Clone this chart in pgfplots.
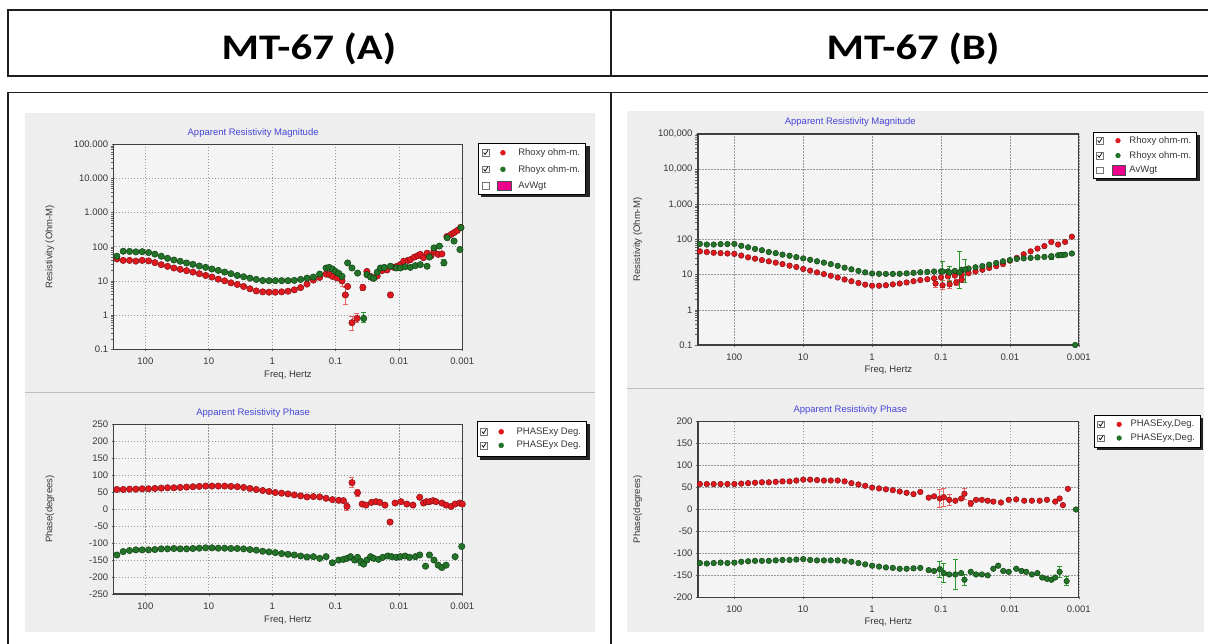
\documentclass[border=0pt]{standalone}
\usepackage{graphicx}
\usepackage{pgfplots}
\pgfplotsset{compat=1.18}
\usepackage{fontspec}
\setmainfont{Liberation Sans}
\newfontfamily\headfont{Carlito}

\definecolor{rfill}{RGB}{225,25,30}
\definecolor{rdraw}{RGB}{130,15,20}
\definecolor{gfill}{RGB}{35,115,40}
\definecolor{gdraw}{RGB}{15,65,20}
\definecolor{rerr}{RGB}{235,100,100}
\definecolor{gerr}{RGB}{40,150,40}
\definecolor{panel}{RGB}{238,238,238}
\definecolor{plotbg}{RGB}{244,244,244}
\definecolor{titleblue}{RGB}{70,70,215}
\definecolor{txt}{RGB}{55,55,55}
\definecolor{frame}{RGB}{30,30,30}

\newcommand{\chartfont}{\fontsize{9.5}{11}\selectfont}
\newcommand{\tA}{1,000}
\newcommand{\tB}{10,000}
\newcommand{\tC}{100,000}

\begin{document}
\begin{tikzpicture}[x=1pt,y=1pt]
\path[use as bounding box] (0,0) rectangle (1208,643);
\fill[white] (0,0) rectangle (1208,643);
% gray panels
\fill[panel] (25,250) rectangle (595,530);
\fill[panel] (25,11) rectangle (595,250);
\draw[black!25, line width=1pt] (25,250) -- (595,250);
\fill[panel] (627,254) rectangle (1204,532);
\fill[panel] (627,11) rectangle (1204,254);
\draw[black!25, line width=1pt] (627,254) -- (1204,254);
% legend shadows
\fill[black!85] (481.3,446) rectangle (589.5,496.7);
\fill[black!85] (480,183) rectangle (590,219);
\fill[black!85] (1096,462) rectangle (1200,508);
\fill[black!85] (1097,193) rectangle (1203,225);
% table frame
\draw[frame, line width=1.6pt] (8,567) rectangle (1216,633);
\draw[frame, line width=1.6pt] (611,567) -- (611,633);
\draw[frame, line width=1.6pt] (8,-5) -- (8,550.3) -- (1216,550.3);
\draw[frame, line width=1.6pt] (611,-5) -- (611,550.3);
\node[font=\headfont\bfseries\fontsize{36}{40}\selectfont] at (309,594) {\scalebox{1.19}[1]{MT-67 (A)}};
\node[font=\headfont\bfseries\fontsize{36}{40}\selectfont] at (913,594) {\scalebox{1.19}[1]{MT-67 (B)}};

% ===== A: resistivity =====
\begin{axis}[at={(113.7pt,293.7pt)}, anchor=south west, width=348.6pt, height=205pt,
  scale only axis, xmode=log, x dir=reverse, xmin=0.001, xmax=316.2,
  ymode=log, ymin=0.1, ymax=100000,
  clip mode=individual, unbounded coords=jump,
  axis background/.style={fill=plotbg},
  axis line style={draw=black!75, line width=1.2pt},
  grid=major,
  major grid style={dash pattern=on 1.5pt off 1.5pt, black!40, line width=0.6pt},
  xtick={100,10,1,0.1,0.01,0.001},
  xticklabels={100,10,1,0.1,0.01,0.001},
  xtick pos=bottom, ytick pos=left, tick align=outside, major tick length=2pt,
  tick style={black!60, line width=0.5pt},
  tick label style={font=\chartfont, text=txt},
  xticklabel style={yshift=-3.5pt},
  label style={font=\chartfont, text=txt},
  xlabel={Freq, Hertz},
  xlabel style={at={(axis description cs:0.5,0)}, anchor=center, yshift=-26pt},
  title style={font=\chartfont, text=titleblue, at={(axis description cs:0.4,1)}, anchor=south, yshift=-2.5pt},
  ytick={0.1,1,10,100,1000,10000,100000},
  yticklabels={0.1,1,10,100,1.000,10.000,100.000},
  title={Apparent Resistivity Magnitude}, ylabel={Resistivity (Ohm-M)},
  ylabel style={at={(axis description cs:-0.183,0.5)}, rotate=0, anchor=center},
  legend cell align=left,
  legend style={draw=black, line width=0.6pt, fill=white, font=\chartfont, text=txt,
     anchor=north west, row sep=4.2pt, inner xsep=3.5pt, inner ysep=3pt, at={(1.046,1.005)}}]
\addplot[forget plot, rerr, line width=0.8pt, mark=-, mark size=2.5pt, mark options={rerr, line width=0.8pt}] coordinates {
(0.079,7)(0.079,13)(0.079,nan)(0.070,2.0)(0.070,6.4)(0.070,nan)(0.055,0.35)(0.055,0.9)(0.055,nan)
(0.0459,0.6)(0.0459,1.1)(0.0459,nan)(0.037,5.2)(0.037,7.9)(0.037,nan)(0.0136,3.2)(0.0136,4.7)
};
\addplot[forget plot, gerr, line width=0.8pt, mark=-, mark size=2.5pt, mark options={gerr, line width=0.8pt}] coordinates {
(0.036,0.6)(0.036,1.2)(0.036,nan)(0.00195,27.7)(0.00195,41.7)
};
\addplot[only marks, mark=*, mark size=3.2pt, mark options={fill=rfill, draw=rdraw, line width=0.5pt},
  legend image code/.code={
     \draw[black!55, fill=white, line width=0.4pt] (0pt,-3.3pt) rectangle (6.6pt,3.3pt);
     \draw[black, line width=0.7pt] (1.3pt,0.3pt) -- (2.8pt,-1.8pt) -- (5.6pt,2.6pt);
     \path[draw=none, fill=none] (0pt,0pt) -- (34pt,0pt);
     \fill[rfill] (20.6pt,0pt) circle (2.4pt);}] coordinates {
(281.8,44)(223.9,40)(177.8,40)(141.3,38)(112.2,40)(89.1,38.6)(70.8,34.4)(56.2,30)(44.7,26.8)(35.5,23.9)
(28.2,21.9)(22.4,20)(17.8,18.2)(14.1,16.3)(11.2,14.5)(8.91,13)(7.08,11.3)(5.62,10.1)(4.47,8.8)(3.55,7.9)
(2.82,6.9)(2.24,5.9)(1.78,5.1)(1.41,4.8)(1.12,4.7)(0.891,4.7)(0.708,4.8)(0.562,5.0)(0.447,5.5)(0.355,6.4)
(0.282,8.1)(0.224,10.6)(0.178,12.7)(0.141,15.9)(0.126,15.3)(0.112,13.6)(0.095,12.2)
(0.079,10)(0.070,3.9)(0.0644,6.9)(0.055,0.6)(0.0459,0.8)(0.037,6.4)(0.0136,3.9)
(0.032,19)(0.028,13.6)(0.025,12)(0.022,14)(0.0185,20)(0.0154,21)(0.012,25)(0.0107,27)
(0.0095,30)(0.0084,38)(0.0072,40)(0.0066,42)(0.0057,50)(0.005,55)(0.0046,60)(0.0041,48)(0.0036,65)
(0.0031,55)(0.0028,74)(0.0024,60)(0.0021,62)(0.00175,200)(0.0015,230)(0.00135,260)(0.0012,300)(0.00106,370)
};
\addlegendentry{Rhoxy ohm-m.}
\addplot[only marks, mark=*, mark size=3.2pt, mark options={fill=gfill, draw=gdraw, line width=0.5pt},
  legend image code/.code={
     \draw[black!55, fill=white, line width=0.4pt] (0pt,-3.3pt) rectangle (6.6pt,3.3pt);
     \draw[black, line width=0.7pt] (1.3pt,0.3pt) -- (2.8pt,-1.8pt) -- (5.6pt,2.6pt);
     \path[draw=none, fill=none] (0pt,0pt) -- (34pt,0pt);
     \fill[gfill] (20.6pt,0pt) circle (2.4pt);}] coordinates {
(281.8,53)(223.9,74)(177.8,73)(141.3,71)(112.2,72)(89.1,68)(70.8,61)(56.2,53)(44.7,46)(35.5,41)
(28.2,37.7)(22.4,33.6)(17.8,30.7)(14.1,27.4)(11.2,25)(8.91,22.4)(7.08,20.4)(5.62,18.2)(4.47,16.3)(3.55,14.5)
(2.82,13.3)(2.24,12.1)(1.78,11.1)(1.41,10.3)(1.12,10.2)(0.891,10.2)(0.708,10.2)(0.562,10.2)(0.447,10.4)(0.355,11.1)
(0.282,12.1)(0.224,13)(0.178,15.9)(0.141,23.9)(0.126,25)(0.112,22.4)(0.1,19)(0.089,16.7)(0.079,13.6)
(0.0644,33.7)(0.055,24)(0.0448,17)(0.036,0.8)(0.032,15.3)(0.028,13)(0.025,12)(0.022,18)(0.0196,24)(0.017,25)(0.0136,27)
(0.011,24)(0.0095,24)(0.008,26)(0.0066,25)(0.0055,28)(0.0046,30)(0.0036,27)(0.0033,50)(0.0028,93)(0.0023,105)
(0.00195,33.7)(0.00173,184)(0.00135,147)(0.00109,83)(0.00105,363)
};
\addlegendentry{Rhoyx ohm-m.}
\addlegendimage{legend image code/.code={
     \draw[black!55, fill=white, line width=0.4pt] (0pt,-3.3pt) rectangle (6.6pt,3.3pt);
     \path[draw=none, fill=none] (0pt,0pt) -- (34pt,0pt);
     \draw[black!70, fill=magenta, line width=0.5pt] (14.6pt,-4.8pt) rectangle (28.6pt,4.8pt);}}
\addlegendentry{AvWgt}
\end{axis}

% ===== A: phase =====
\begin{axis}[at={(113.7pt,49pt)}, anchor=south west, width=348.6pt, height=169.7pt,
  scale only axis, xmode=log, x dir=reverse, xmin=0.001, xmax=316.2,
  ymin=-250, ymax=250,
  clip mode=individual, unbounded coords=jump,
  axis background/.style={fill=plotbg},
  axis line style={draw=black!75, line width=1.2pt},
  grid=major,
  major grid style={dash pattern=on 1.5pt off 1.5pt, black!40, line width=0.6pt},
  xtick={100,10,1,0.1,0.01,0.001},
  xticklabels={100,10,1,0.1,0.01,0.001},
  xtick pos=bottom, ytick pos=left, tick align=outside, major tick length=2pt,
  tick style={black!60, line width=0.5pt},
  tick label style={font=\chartfont, text=txt},
  xticklabel style={yshift=-3.5pt},
  label style={font=\chartfont, text=txt},
  xlabel={Freq, Hertz},
  xlabel style={at={(axis description cs:0.5,0)}, anchor=center, yshift=-26pt},
  title style={font=\chartfont, text=titleblue, at={(axis description cs:0.4,1)}, anchor=south, yshift=-2.5pt},
  ytick={-250,-200,-150,-100,-50,0,50,100,150,200,250},
  yticklabels={-250,-200,-150,-100,-50,0,50,100,150,200,250},
  title={Apparent Resistivity Phase}, ylabel={Phase(degrees)},
  ylabel style={at={(axis description cs:-0.183,0.5)}, rotate=0, anchor=center},
  legend cell align=left,
  legend style={draw=black, line width=0.6pt, fill=white, font=\chartfont, text=txt,
     anchor=north west, row sep=1.5pt, inner xsep=3.5pt, inner ysep=4.5pt, at={(1.041,1.02)}}]
\addplot[forget plot, rerr, line width=0.8pt, mark=-, mark size=2.5pt, mark options={rerr, line width=0.8pt}] coordinates {
(0.066,-4)(0.066,20)(0.066,nan)(0.055,63)(0.055,93)(0.055,nan)(0.045,38)(0.045,58)(0.045,nan)(0.0138,-43)(0.0138,-33)
};
\addplot[forget plot, gerr, line width=0.8pt, mark=-, mark size=2.5pt, mark options={gerr, line width=0.8pt}] coordinates {
(0.04,-165)(0.04,-145)
};
\addplot[only marks, mark=*, mark size=3.2pt, mark options={fill=rfill, draw=rdraw, line width=0.5pt},
  legend image code/.code={
     \draw[black!55, fill=white, line width=0.4pt] (0pt,-3.3pt) rectangle (6.6pt,3.3pt);
     \draw[black, line width=0.7pt] (1.3pt,0.3pt) -- (2.8pt,-1.8pt) -- (5.6pt,2.6pt);
     \path[draw=none, fill=none] (0pt,0pt) -- (34pt,0pt);
     \fill[rfill] (20.6pt,0pt) circle (2.4pt);}] coordinates {
(281.8,58)(223.9,58)(177.8,59)(141.3,59)(112.2,60)(89.1,60)(70.8,61)(56.2,62)(44.7,63)(35.5,63)
(28.2,64)(22.4,65)(17.8,66)(14.1,67)(11.2,68)(8.91,68)(7.08,68)(5.62,68)(4.47,67)(3.55,66)
(2.82,64)(2.24,61)(1.78,58)(1.41,55)(1.12,52)(0.891,49)(0.708,47)(0.562,45)(0.447,42)(0.355,39)
(0.282,36)(0.224,37)(0.178,36)(0.141,32)(0.112,28)(0.089,26)
(0.075,25)(0.066,8)(0.055,78)(0.045,48)(0.038,15)(0.033,12)(0.027,20)(0.023,22)(0.02,20)(0.0166,12)(0.0138,-38)
(0.0115,18)(0.0093,22)(0.0075,15)
(0.006,12)(0.0047,35)(0.0041,18)(0.0037,22)(0.0033,22)(0.0029,25)(0.0026,22)(0.0021,18)(0.0018,12)
(0.0015,8)(0.0013,15)(0.0011,18)(0.001,15)
};
\addlegendentry{PHASExy Deg.}
\addplot[only marks, mark=*, mark size=3.2pt, mark options={fill=gfill, draw=gdraw, line width=0.5pt},
  legend image code/.code={
     \draw[black!55, fill=white, line width=0.4pt] (0pt,-3.3pt) rectangle (6.6pt,3.3pt);
     \draw[black, line width=0.7pt] (1.3pt,0.3pt) -- (2.8pt,-1.8pt) -- (5.6pt,2.6pt);
     \path[draw=none, fill=none] (0pt,0pt) -- (34pt,0pt);
     \fill[gfill] (20.6pt,0pt) circle (2.4pt);}] coordinates {
(281.8,-135)(223.9,-125)(177.8,-122)(141.3,-120)(112.2,-120)(89.1,-120)(70.8,-119)(56.2,-117)(44.7,-117)(35.5,-116)
(28.2,-117)(22.4,-117)(17.8,-116)(14.1,-115)(11.2,-114)(8.91,-114)(7.08,-115)(5.62,-115)(4.47,-116)(3.55,-116)
(2.82,-117)(2.24,-119)(1.78,-121)(1.41,-124)(1.12,-126)(0.891,-128)(0.708,-131)(0.562,-133)(0.447,-135)(0.355,-138)
(0.282,-141)(0.224,-140)(0.178,-145)(0.141,-140)(0.112,-158)(0.089,-150)
(0.075,-148)(0.066,-145)(0.058,-140)(0.05,-150)(0.045,-142)(0.04,-155)(0.036,-162)(0.032,-150)(0.028,-140)(0.025,-145)
(0.021,-148)(0.018,-142)(0.015,-138)(0.013,-140)(0.011,-142)(0.0095,-140)(0.008,-138)(0.0068,-142)(0.0055,-140)
(0.0047,-135)(0.0038,-168)(0.0033,-135)(0.0028,-150)(0.0024,-165)(0.0021,-172)(0.0018,-165)(0.0013,-140)(0.00102,-110)
};
\addlegendentry{PHASEyx Deg.}
\end{axis}

% ===== B: resistivity =====
\begin{axis}[at={(698pt,298pt)}, anchor=south west, width=380.8pt, height=211pt,
  scale only axis, xmode=log, x dir=reverse, xmin=0.001, xmax=337,
  ymode=log, ymin=0.1, ymax=100000,
  clip mode=individual, unbounded coords=jump,
  axis background/.style={fill=plotbg},
  axis line style={draw=black!75, line width=1.2pt},
  grid=major,
  major grid style={dash pattern=on 1.5pt off 1.5pt, black!40, line width=0.6pt},
  xtick={100,10,1,0.1,0.01,0.001},
  xticklabels={100,10,1,0.1,0.01,0.001},
  xtick pos=bottom, ytick pos=left, tick align=outside, major tick length=2pt,
  tick style={black!60, line width=0.5pt},
  tick label style={font=\chartfont, text=txt},
  xticklabel style={yshift=-3pt},
  label style={font=\chartfont, text=txt},
  xlabel={Freq, Hertz},
  xlabel style={at={(axis description cs:0.5,0)}, anchor=center, yshift=-25pt},
  title style={font=\chartfont, text=titleblue, at={(axis description cs:0.4,1)}, anchor=south, yshift=-2.5pt},
  ytick={0.1,1,10,100,1000,10000,100000},
  yticklabels={0.1,1,10,100,\tA,\tB,\tC},
  title={Apparent Resistivity Magnitude}, ylabel={Resistivity (Ohm-M)},
  ylabel style={at={(axis description cs:-0.1586,0.5)}, rotate=0, anchor=center},
  legend cell align=left,
  legend style={draw=black, line width=0.6pt, fill=white, font=\chartfont, text=txt,
     anchor=north west, row sep=2.5pt, inner xsep=3pt, inner ysep=2.5pt, at={(1.037,1.011)}}]
\addplot[forget plot, rerr, line width=0.8pt, mark=-, mark size=2.5pt, mark options={rerr, line width=0.8pt}] coordinates {
(0.12,4.4)(0.12,7.1)(0.12,nan)(0.095,3.7)(0.095,6.8)(0.095,nan)(0.075,4.1)(0.075,6.9)(0.075,nan)
(0.06,4.8)(0.06,7.5)(0.06,nan)(0.05,6.2)(0.05,8.4)
};
\addplot[forget plot, gerr, line width=0.8pt, mark=-, mark size=2.5pt, mark options={gerr, line width=0.8pt}] coordinates {
(0.095,4.4)(0.095,24.4)(0.095,nan)(0.075,6.5)(0.075,17.5)(0.075,nan)(0.054,4)(0.054,46.5)(0.054,nan)
(0.045,6)(0.045,28)(0.045,nan)(0.0025,27)(0.0025,38)(0.0025,nan)(0.0018,30)(0.0018,44)
};
\addplot[only marks, mark=*, mark size=2.8pt, mark options={fill=rfill, draw=rdraw, line width=0.5pt},
  legend image code/.code={
     \draw[black!55, fill=white, line width=0.4pt] (0pt,-3.3pt) rectangle (6.6pt,3.3pt);
     \draw[black, line width=0.7pt] (1.3pt,0.3pt) -- (2.8pt,-1.8pt) -- (5.6pt,2.6pt);
     \path[draw=none, fill=none] (0pt,0pt) -- (31pt,0pt);
     \fill[rfill] (21.6pt,0pt) circle (2.3pt);}] coordinates {
(316.2,46)(251.2,44)(199.5,42)(158.5,41)(125.9,40)(100,39)(79.4,35)(63.1,31)(50.1,28.5)(39.8,26)
(31.6,24)(25.1,22)(20,20)(15.8,18)(12.6,16.5)(10,14.5)(7.94,13)(6.31,11.6)(5.01,10.4)(3.98,9.3)
(3.16,8.3)(2.51,7.3)(2,6.5)(1.58,5.8)(1.26,5.2)(1,4.85)(0.794,4.85)(0.631,5.0)(0.501,5.3)(0.398,5.6)
(0.316,6.0)(0.251,6.5)(0.2,7.0)(0.158,7.4)(0.126,7.9)(0.1,8.4)(0.0794,8.9)(0.0631,9.4)(0.0501,10)(0.0398,11)
(0.12,5.6)(0.095,5.0)(0.075,5.3)(0.06,6.0)(0.05,7.2)
(0.0316,12.3)(0.0251,13.8)(0.02,15.5)(0.0158,17.5)(0.0126,20)(0.01,25)(0.00794,30)(0.00631,38)(0.00501,46)(0.00398,55)
(0.00316,65)(0.00251,85)(0.002,72)(0.00158,85)(0.00126,120)
};
\addlegendentry{Rhoxy ohm-m.}
\addplot[only marks, mark=*, mark size=2.8pt, mark options={fill=gfill, draw=gdraw, line width=0.5pt},
  legend image code/.code={
     \draw[black!55, fill=white, line width=0.4pt] (0pt,-3.3pt) rectangle (6.6pt,3.3pt);
     \draw[black, line width=0.7pt] (1.3pt,0.3pt) -- (2.8pt,-1.8pt) -- (5.6pt,2.6pt);
     \path[draw=none, fill=none] (0pt,0pt) -- (31pt,0pt);
     \fill[gfill] (21.6pt,0pt) circle (2.3pt);}] coordinates {
(316.2,75)(251.2,72)(199.5,72)(158.5,74)(125.9,74)(100,75)(79.4,66)(63.1,60)(50.1,54)(39.8,49.6)
(31.6,44)(25.1,41)(20,37)(15.8,34.5)(12.6,31.5)(10,29)(7.94,26.5)(6.31,24)(5.01,22)(3.98,20)
(3.16,17.8)(2.51,15.8)(2,14.2)(1.58,12.8)(1.26,11.6)(1,10.8)(0.794,10.6)(0.631,10.5)(0.501,10.5)(0.398,10.6)
(0.316,10.9)(0.251,11.3)(0.2,11.7)(0.158,12)(0.126,12.3)(0.1,12.4)(0.0794,12.4)(0.0631,12.8)(0.0501,13.8)(0.0398,15)
(0.095,12.4)(0.075,11.5)(0.054,11.5)(0.045,14)
(0.0316,16.2)(0.0251,17.5)(0.02,19.3)(0.0158,21.5)(0.0126,24)(0.01,26)(0.00794,28)(0.00631,29)(0.00501,30)(0.00398,31)
(0.00316,32)(0.0025,32)(0.00251,33.5)(0.002,35.6)(0.0018,36)(0.00158,37)(0.00126,40)(0.00113,0.1)
};
\addlegendentry{Rhoyx ohm-m.}
\addlegendimage{legend image code/.code={
     \draw[black!55, fill=white, line width=0.4pt] (0pt,-3.3pt) rectangle (6.6pt,3.3pt);
     \path[draw=none, fill=none] (0pt,0pt) -- (31pt,0pt);
     \draw[black!70, fill=magenta, line width=0.5pt] (15.6pt,-4.8pt) rectangle (29.3pt,4.8pt);}}
\addlegendentry{AvWgt}
\end{axis}

% ===== B: phase =====
\begin{axis}[at={(698pt,45.7pt)}, anchor=south west, width=380.8pt, height=175.6pt,
  scale only axis, xmode=log, x dir=reverse, xmin=0.001, xmax=337,
  ymin=-200, ymax=200,
  clip mode=individual, unbounded coords=jump,
  axis background/.style={fill=plotbg},
  axis line style={draw=black!75, line width=1.2pt},
  grid=major,
  major grid style={dash pattern=on 1.5pt off 1.5pt, black!40, line width=0.6pt},
  xtick={100,10,1,0.1,0.01,0.001},
  xticklabels={100,10,1,0.1,0.01,0.001},
  xtick pos=bottom, ytick pos=left, tick align=outside, major tick length=2pt,
  tick style={black!60, line width=0.5pt},
  tick label style={font=\chartfont, text=txt},
  xticklabel style={yshift=-3pt},
  label style={font=\chartfont, text=txt},
  xlabel={Freq, Hertz},
  xlabel style={at={(axis description cs:0.5,0)}, anchor=center, yshift=-25pt},
  title style={font=\chartfont, text=titleblue, at={(axis description cs:0.4,1)}, anchor=south, yshift=-2.5pt},
  ytick={-200,-150,-100,-50,0,50,100,150,200},
  yticklabels={-200,-150,-100,-50,0,50,100,150,200},
  title={Apparent Resistivity Phase}, ylabel={Phase(degrees)},
  ylabel style={at={(axis description cs:-0.1586,0.5)}, rotate=0, anchor=center},
  legend cell align=left,
  legend style={draw=black, line width=0.6pt, fill=white, font=\chartfont, text=txt,
     anchor=north west, row sep=1.5pt, inner xsep=3pt, inner ysep=3pt, at={(1.04,1.038)}}]
\addplot[forget plot, rerr, line width=0.8pt, mark=-, mark size=2.5pt, mark options={rerr, line width=0.8pt}] coordinates {
(0.104,5)(0.104,45)(0.104,nan)(0.091,8)(0.091,48)(0.091,nan)(0.076,10)(0.076,34)(0.076,nan)
(0.0457,24)(0.0457,48)(0.0457,nan)(0.037,8)(0.037,20)
};
\addplot[forget plot, gerr, line width=0.8pt, mark=-, mark size=2.5pt, mark options={gerr, line width=0.8pt}] coordinates {
(0.104,-154)(0.104,-118)(0.104,nan)(0.091,-167)(0.091,-123)(0.091,nan)(0.062,-183)(0.062,-113)(0.062,nan)
(0.0457,-172)(0.0457,-148)(0.0457,nan)(0.0019,-154)(0.0019,-130)(0.0019,nan)(0.0015,-173)(0.0015,-153)
};
\addplot[only marks, mark=*, mark size=2.8pt, mark options={fill=rfill, draw=rdraw, line width=0.5pt},
  legend image code/.code={
     \draw[black!55, fill=white, line width=0.4pt] (0pt,-3.3pt) rectangle (6.6pt,3.3pt);
     \draw[black, line width=0.7pt] (1.3pt,0.3pt) -- (2.8pt,-1.8pt) -- (5.6pt,2.6pt);
     \path[draw=none, fill=none] (0pt,0pt) -- (31pt,0pt);
     \fill[rfill] (21.6pt,0pt) circle (2.3pt);}] coordinates {
(316.2,58)(251.2,58)(199.5,58)(158.5,58)(125.9,58)(100,58)(79.4,59)(63.1,60)(50.1,61)(39.8,62)
(31.6,62)(25.1,63)(20,64)(15.8,64)(12.6,66)(10,68)(7.94,68)(6.31,67)(5.01,66)(3.98,66)
(3.16,66)(2.51,64)(2,60)(1.58,57)(1.26,54)(1,50)(0.794,48)(0.631,46)(0.501,44)(0.398,41)
(0.316,38)(0.251,35)(0.2,40)
(0.151,27)(0.126,30)(0.104,25)(0.091,28)(0.076,22)(0.062,20)(0.051,25)(0.0457,36)(0.037,14)
(0.031,22)(0.0255,22)(0.021,20)(0.0174,18)(0.0135,16)(0.0104,22)
(0.0081,23)(0.0062,20)(0.0048,20)(0.0037,20)(0.0029,22)(0.0022,18)(0.0019,25)(0.0017,10)(0.00144,47)
};
\addlegendentry{PHASExy,Deg.}
\addplot[only marks, mark=*, mark size=2.8pt, mark options={fill=gfill, draw=gdraw, line width=0.5pt},
  legend image code/.code={
     \draw[black!55, fill=white, line width=0.4pt] (0pt,-3.3pt) rectangle (6.6pt,3.3pt);
     \draw[black, line width=0.7pt] (1.3pt,0.3pt) -- (2.8pt,-1.8pt) -- (5.6pt,2.6pt);
     \path[draw=none, fill=none] (0pt,0pt) -- (31pt,0pt);
     \fill[gfill] (21.6pt,0pt) circle (2.3pt);}] coordinates {
(316.2,-122)(251.2,-123)(199.5,-122)(158.5,-121)(125.9,-122)(100,-121)(79.4,-119)(63.1,-118)(50.1,-117)(39.8,-117)
(31.6,-117)(25.1,-116)(20,-115)(15.8,-115)(12.6,-114)(10,-113)(7.94,-115)(6.31,-116)(5.01,-116)(3.98,-116)
(3.16,-116)(2.51,-117)(2,-119)(1.58,-122)(1.26,-125)(1,-128)(0.794,-130)(0.631,-132)(0.501,-133)(0.398,-135)
(0.316,-135)(0.251,-134)(0.2,-133)
(0.151,-138)(0.126,-140)(0.104,-136)(0.091,-145)(0.076,-148)(0.062,-148)(0.051,-145)(0.0457,-160)(0.037,-142)
(0.031,-148)(0.0255,-148)(0.021,-150)(0.0174,-135)
(0.0148,-128)(0.0125,-140)(0.0104,-142)(0.0081,-135)(0.0068,-140)(0.0058,-142)(0.0048,-148)(0.0040,-145)
(0.0034,-155)(0.0029,-158)(0.0025,-160)(0.0022,-155)(0.0019,-142)(0.0015,-163)(0.0011,0)
};
\addlegendentry{PHASEyx,Deg.}
\end{axis}
\end{tikzpicture}
\end{document}
